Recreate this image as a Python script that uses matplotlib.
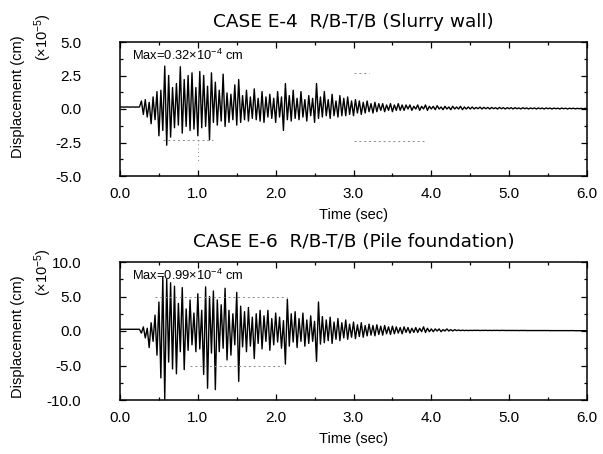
import numpy as np
import matplotlib
matplotlib.use("Agg")
import matplotlib.pyplot as plt
from matplotlib.ticker import MultipleLocator, FormatStrFormatter

plt.rcParams['font.family'] = ['Liberation Sans', 'DejaVu Sans']
plt.rcParams['mathtext.fontset'] = 'custom'
plt.rcParams['mathtext.rm'] = 'Liberation Sans'
plt.rcParams['mathtext.it'] = 'Liberation Sans'

# ---------------- data (x 1e-5 cm), sampled every 0.025 s ----------------
DT = 0.025
disp_e4 = [
    0.15, 0.15, 0.14, 0.15, 0.15, 0.14, 0.15, 0.15, 0.14, 0.15,
    0.15, 0.6, -0.4, 0.7, -0.6, 0.5, -1.1, 0.9, -0.8, 1.3,
    -2.0, 1.4, -1.6, 3.2, -2.7, 2.5, -2.1, 1.6, -1.4, 1.9,
    -1.2, 3.15, -1.8, 2.2, -1.3, 2.5, -1.6, 2.7, -1.5, 1.6,
    -2.0, 2.8, -1.4, 2.5, -1.3, 1.7, -2.3, 2.7, -1.0, 2.0,
    -1.2, 1.4, -0.9, 2.6, -1.3, 1.2, -1.0, 1.1, -0.8, 1.8,
    -1.2, 2.2, -1.0, 1.0, -0.8, 1.4, -0.9, 0.9, -0.7, 1.5,
    -0.8, 0.8, -0.9, 1.3, -1.0, 0.9, -0.6, 1.1, -0.7, 0.8,
    -1.0, 1.3, -0.6, 0.9, -1.6, 1.9, -0.8, 1.0, -0.9, 1.4,
    -0.7, 0.8, -0.8, 1.3, -0.6, 0.7, -0.9, 1.0, -0.5, 0.8,
    -1.0, 1.9, -0.7, 0.9, -0.6, 1.3, -0.5, 0.7, -0.7, 1.1,
    -0.5, 0.6, -0.6, 1.0, -0.5, 0.8, -0.5, 0.9, -0.4, 0.6,
    -0.5, 0.7, -0.3, 0.6, -0.4, 0.5, -0.3, 0.6, -0.2, 0.4,
    -0.3, 0.5, -0.2, 0.4, -0.1, 0.4, -0.2, 0.3, -0.1, 0.4,
    -0.2, 0.3, -0.1, 0.4, -0.1, 0.3, -0.1, 0.3, 0.0, 0.3,
    -0.1, 0.2, 0.0, 0.3, -0.1, 0.2, 0.0, 0.3, -0.1, 0.2,
    0.0, 0.2, -0.05, 0.25, 0.0, 0.15, -0.05, 0.2, 0.0, 0.15,
    -0.05, 0.2, 0.0, 0.15, 0.0, 0.2, -0.05, 0.15, 0.0, 0.15,
    0.0, 0.15, 0.0, 0.12, 0.02, 0.14, 0.0, 0.12, 0.02, 0.12,
    0.0, 0.12, 0.02, 0.1, 0.0, 0.12, 0.02, 0.1, 0.0, 0.1,
    0.02, 0.1, 0.0, 0.1, 0.02, 0.08, 0.0, 0.1, 0.02, 0.08,
    0.0, 0.08, 0.02, 0.08, 0.0, 0.08, 0.02, 0.07, 0.0, 0.08,
    0.02, 0.07, 0.0, 0.07, 0.02, 0.06, 0.0, 0.07, 0.02, 0.06,
    0.0, 0.06, 0.02, 0.06, 0.01, 0.05, 0.02, 0.05, 0.01, 0.05,
    0.03,
]
disp_e6 = [
    0.25, 0.25, 0.24, 0.25, 0.26, 0.25, 0.24, 0.25, 0.25, 0.24,
    0.25, -0.3, 0.6, -1.0, 0.4, -2.4, 1.2, -1.5, 2.3, -3.5,
    4.2, -6.8, 7.8, -9.9, 7.5, -4.5, 7.0, -5.5, 6.5, -6.2,
    4.0, -3.0, 6.3, -5.6, 3.2, -2.8, 4.5, -2.0, 2.6, -3.0,
    5.4, -2.6, 3.0, -6.3, 6.4, -8.3, 5.0, -3.2, 5.8, -8.5,
    4.5, -3.0, 3.8, -2.5, 6.2, -4.2, 3.0, -3.5, 2.5, -2.0,
    5.6, -7.3, 3.6, -2.3, 2.8, -3.0, 3.4, -2.2, 2.0, -4.0,
    2.5, -1.8, 3.0, -2.6, 2.2, -1.5, 3.0, -2.8, 1.8, -2.0,
    2.6, -1.6, 2.0, -2.5, 1.5, -4.8, 4.6, -2.2, 2.5, -1.6,
    2.8, -2.4, 1.8, -1.5, 2.6, -2.2, 1.6, -1.8, 2.2, -1.5,
    1.4, -4.4, 4.2, -1.9, 2.1, -1.7, 1.6, -1.4, 2.0, -1.8,
    1.3, -1.2, 1.8, -1.4, 1.2, -1.0, 1.6, -1.2, 1.0, -0.9,
    1.3, -1.1, 0.9, -0.8, 1.2, -0.9, 0.8, -0.7, 1.0, -0.6,
    0.8, -0.7, 0.9, -0.5, 0.7, -0.6, 0.8, -0.4, 0.6, -0.5,
    0.7, -0.4, 0.6, -0.3, 0.5, -0.4, 0.6, -0.2, 0.5, -0.3,
    0.4, -0.2, 0.5, -0.2, 0.4, -0.1, 0.6, -0.2, 0.4, -0.1,
    0.3, -0.1, 0.3, 0.0, 0.3, -0.1, 0.2, 0.0, 0.3, 0.0,
    0.2, 0.0, 0.2, 0.05, 0.15, 0.05, 0.12, 0.06, 0.1, 0.06,
    0.1, 0.07, 0.1, 0.08, 0.1, 0.07, 0.09, 0.08, 0.1, 0.07,
    0.09, 0.07, 0.09, 0.08, 0.09, 0.07, 0.09, 0.08, 0.08, 0.07,
    0.08, 0.07, 0.08, 0.07, 0.08, 0.06, 0.08, 0.07, 0.08, 0.06,
    0.07, 0.06, 0.07, 0.06, 0.07, 0.06, 0.07, 0.06, 0.07, 0.06,
    0.07, 0.05, 0.06, 0.05, 0.06, 0.05, 0.06, 0.05, 0.06, 0.05,
    0.06, 0.05, 0.06, 0.05, 0.05, 0.04, 0.05, 0.04, 0.05, 0.04,
    0.05,
]

titles = ["CASE E-4  R/B-T/B (Slurry wall)", "CASE E-6  R/B-T/B (Pile foundation)"]
max_labels = ["Max=0.32\u00d710$^{-4}$ cm", "Max=0.99\u00d710$^{-4}$ cm"]
y_limits = [(-5.0, 5.0), (-10.0, 10.0)]
y_major = [2.5, 5.0]
x_ticks = [0.0, 1.0, 2.0, 3.0, 4.0, 5.0, 6.0]

# faint dotted guide lines seen on the original (y, x_start, x_end)
guides_h = [
    [(-2.35, 0.55, 1.2), (-2.4, 3.0, 3.9), (2.7, 3.0, 3.2)],
    [(5.0, 0.45, 2.15), (-5.0, 0.9, 2.1)],
]
guides_v = [
    [(1.0, -2.35, -4.0)],
    [],
]

# ---------------- figure ----------------
W, H = 603, 454
fig = plt.figure(figsize=(W / 100, H / 100), dpi=100)

def box(left, top, right, bottom):
    return [left / W, 1 - bottom / H, (right - left) / W, (bottom - top) / H]

axes = [fig.add_axes(box(120, 42, 587, 176)),
        fig.add_axes(box(120, 262, 587, 400))]

series = [disp_e4, disp_e6]
for i, ax in enumerate(axes):
    vals = np.array(series[i])
    t = np.arange(len(vals)) * DT
    ax.plot(t, vals, color='black', lw=1.0)
    for (y, x0, x1) in guides_h[i]:
        ax.plot([x0, x1], [y, y], color='#888888', lw=0.7, ls=(0, (2, 3)))
    for (x, y0, y1) in guides_v[i]:
        ax.plot([x, x], [y0, y1], color='#888888', lw=0.7, ls=(0, (1, 3)))
    ax.set_xlim(0, 6.0)
    ax.set_ylim(*y_limits[i])
    ax.set_xticks(x_ticks)
    ax.xaxis.set_minor_locator(MultipleLocator(0.5))
    ax.yaxis.set_major_locator(MultipleLocator(y_major[i]))
    ax.yaxis.set_minor_locator(MultipleLocator(y_major[i] / 2))
    ax.xaxis.set_major_formatter(FormatStrFormatter('%.1f'))
    ax.yaxis.set_major_formatter(FormatStrFormatter('%.1f'))
    ax.tick_params(which='both', direction='in', top=True, right=True,
                   labelsize=11, width=0.9)
    ax.tick_params(which='major', length=4, pad=8)
    ax.tick_params(axis='y', which='major', pad=28)
    ax.tick_params(which='minor', length=2.5)
    for s in ax.spines.values():
        s.set_linewidth(1.1)
    ax.set_title(titles[i], fontsize=13.3, pad=11,
                 fontfamily=['DejaVu Sans'])
    ax.set_xlabel("Time (sec)", fontsize=10.5, labelpad=5)
    ax.text(0.026, 0.9, max_labels[i], transform=ax.transAxes,
            fontsize=9.3, va='center', ha='left')

# y labels (two separate pieces, as in the original)
for yc_disp, yc_unit in [(97, 37), (337, 272)]:
    fig.text(18 / W, 1 - yc_disp / H, "Displacement (cm)", rotation=90,
             ha='center', va='center', fontsize=10.5)
    fig.text(43 / W, 1 - yc_unit / H, "(\u00d710$^{-5}$)", rotation=90,
             ha='center', va='center', fontsize=10.5)

fig.savefig("out.png", dpi=100)
